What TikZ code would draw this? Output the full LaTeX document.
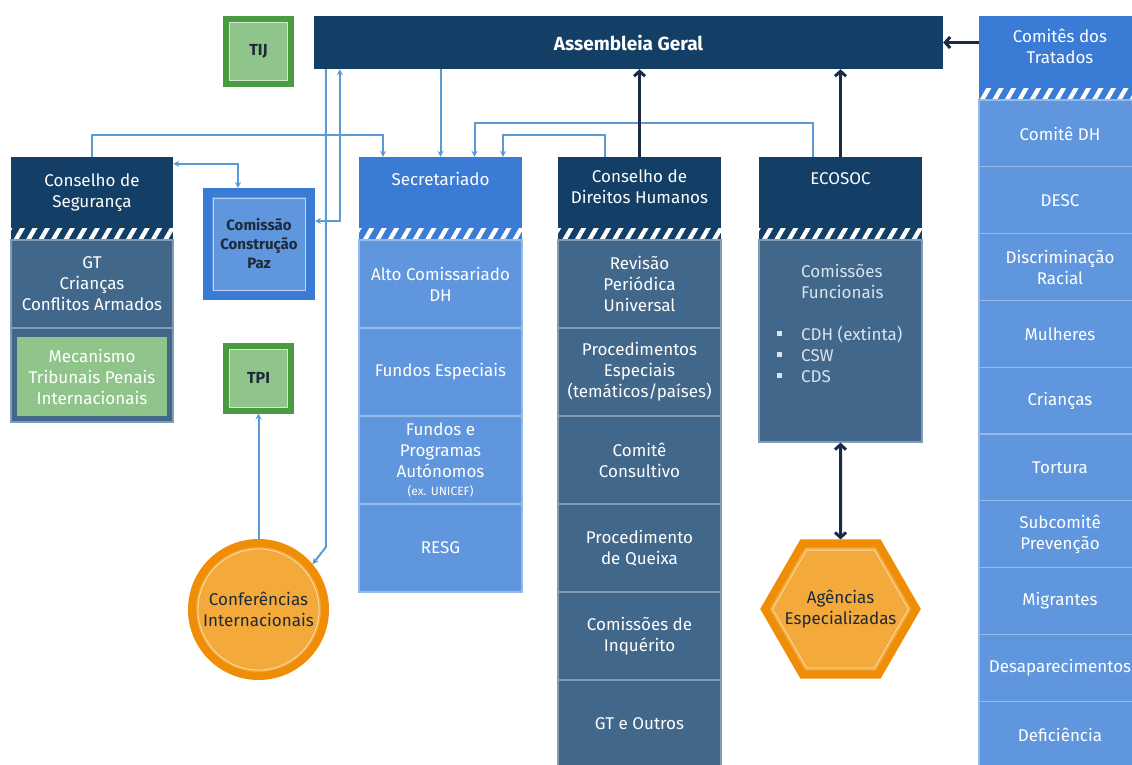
\documentclass[tikz,border=0pt]{standalone}
\usepackage{fontspec}
\setmainfont{Fira Sans}
\usetikzlibrary{shapes.geometric,arrows.meta,patterns.meta}

\definecolor{navy}{HTML}{133F66}
\definecolor{steel}{HTML}{41678B}
\definecolor{azure}{HTML}{3A7BD5}
\definecolor{sky}{HTML}{5F96DD}
\definecolor{leaf}{HTML}{8FC48B}
\definecolor{leafdark}{HTML}{4A9C40}
\definecolor{amber}{HTML}{F08D07}
\definecolor{gold}{HTML}{F4AA3A}
\definecolor{wire}{HTML}{5B9BD5}
\definecolor{ink}{HTML}{1B2B47}
\definecolor{mist}{HTML}{D9E4EE}
\definecolor{slate}{HTML}{1E2A38}

\newcommand{\sqbullet}{\rule[4pt]{5pt}{5pt}\hspace*{19pt}}

\begin{document}
\begin{tikzpicture}[x=1pt, y=1pt,
    txt/.style={align=center, inner sep=2pt,
        font=\fontsize{17}{21}\selectfont},
    head/.style={txt, fill=#1, text=white, minimum width=163pt,
        minimum height=71pt},
    cell/.style={txt, fill=#1, text=white, draw=white!35!#1,
        line width=1.2pt, minimum width=163pt, minimum height=88pt},
    band/.style={preaction={fill=#1}, pattern color=white,
        pattern={Lines[angle=60, distance=10.8pt, line width=4.3pt]}},
    court/.style={txt, draw=leafdark, line width=6pt, fill=leaf,
        text=slate, minimum size=65pt,
        font=\fontsize{16}{19}\selectfont\bfseries},
    link/.style={draw=wire, line width=2pt,
        >={Stealth[length=6pt, width=6pt]}},
    navyarrow/.style={draw=ink, line width=3pt,
        >={Straight Barb[length=5pt, width=11pt]}},
]
    \useasboundingbox (0, 0) rectangle (1132, -764);

    \node[head=navy, minimum width=629pt, minimum height=53pt,
        font=\fontsize{19}{23}\selectfont\bfseries] (ag) at (628.5, -42.5)
        {Assembleia Geral};
    \node[court] (tij) at (258.5, -51.5) {TIJ};
    \node[head=azure, minimum width=162pt, minimum height=72pt] (trh)
        at (1060, -52) {Comitês dos\\Tratados\\[-10pt]\mbox{}};

    \node[head=navy, minimum width=162pt] (cs) at (92, -192.5)
        {Conselho de\\Segurança};
    \node[head=azure] (sec) at (440.5, -192.5) {Secretariado\\\strut};
    \node[head=navy] (cdh) at (639.5, -192.5)
        {Conselho de\\Direitos Humanos\\[-10pt]\mbox{}};
    \node[head=navy] (eco) at (840.5, -192.5) {ECOSOC\\\strut};

    \foreach \n/\c in {cs/navy, sec/azure, cdh/navy, eco/navy, trh/azure}
        \path[band=\c] (\n.south west) rectangle ([yshift=-12pt]\n.south east);

    \node[cell=steel, minimum width=162pt] (csgt) at (92, -284)
        {GT\\Crianças\\Conflitos Armados};
    \node[cell=steel, minimum width=162pt, minimum height=94pt] (csbox)
        at (92, -375) {};
    \node[txt, fill=leaf, text=white, minimum width=150pt,
        minimum height=79pt] (mec) at (92, -376.5)
        {Mecanismo\\Tribunais Penais\\Internacionais};

    \foreach \t [count=\i] in {{Alto Comissariado\\DH}, Fundos Especiais,
        {Fundos e\\Programas\\Autónomos\\[-3pt]{\fontsize{12}{14}\selectfont
        (ex. UNICEF)}}, RESG}
        \node[cell=sky] (sec\i) at (440.5, -196-88*\i) {\t};

    \foreach \t [count=\i] in {{Revisão\\Periódica\\Universal},
        {Procedimentos\\Especiais\\(temáticos/países)},
        {Comitê\\Consultivo}, {Procedimento\\de Queixa},
        {Comissões de\\Inquérito}, GT e Outros}
        \node[cell=steel] (cdh\i) at (639.5, -196-88*\i) {\t};

    \node[cell=steel, minimum height=202pt] (eco2) at (840.5, -341) {};
    \node[anchor=north west, inner sep=0pt, align=left, text=mist,
        font=\fontsize{17}{21}\selectfont] (ecolist) at (777, -264)
        {\hspace*{24pt}Comissões\\\hspace*{24pt}Funcionais\\[21pt]
        \sqbullet CDH (extinta)\\\sqbullet CSW\\\sqbullet CDS};

    \foreach \t [count=\i] in {Comitê DH, DESC, {Discriminação\\Racial},
        Mulheres, Crianças, Tortura, {Subcomitê\\Prevenção}, Migrantes,
        Desaparecimentos, Deficiência}
        \node[cell=sky, minimum width=162pt, minimum height=66.8pt] (tr\i)
            at (1060, -66.6-66.8*\i) {\t};

    \node[txt, draw=azure, line width=9pt, fill=sky, text=slate,
        minimum size=103pt, font=\fontsize{15}{19}\selectfont\bfseries]
        (ccp) at (259, -244) {Comissão\\Construção\\Paz};
    \node[court] (tpi) at (258.5, -378) {TPI};
    \node[txt, circle, draw=amber, line width=8pt, fill=gold, text=slate,
        minimum size=133pt] (conf) at (258.5, -609.5)
        {Conferências\\Internacionais};
    \node[txt, regular polygon, regular polygon sides=6, draw=amber,
        line width=8pt, fill=gold, text=slate, inner sep=-9.5pt]
        (agen) at (840.5, -609) {Agências\\Especializadas};

    \foreach \n in {tij, tpi}
        \draw[white!60!leaf, line width=0.8pt]
            ([shift={(6.5pt,-6.5pt)}]\n.north west)
            rectangle ([shift={(-6.5pt,6.5pt)}]\n.south east);
    \draw[white!60!sky, line width=0.8pt]
        ([shift={(10pt,-10pt)}]ccp.north west)
        rectangle ([shift={(-10pt,10pt)}]ccp.south east);
    \draw[white!60!gold, line width=0.8pt] (conf) circle (60.5);
    \draw[white!60!gold, line width=0.8pt, shift={(agen.center)}] (0:68)
        \foreach \a in {60, 120, ..., 300} {-- (\a:68)} -- cycle;

    \draw[link, ->] (cs.north) -- ++(0, 22) -| ([xshift=-57.5pt]sec.north);
    \draw[link, <->] ([yshift=-7pt]cs.north east) -| ([xshift=-21pt]ccp.north);
    \draw[link, ->] (ag.south -| sec.north) -- (sec.north);
    \draw[link, <->] ([xshift=26pt]ag.south west) |- ([yshift=23pt]ccp.east);
    \draw[link, ->] ([xshift=12pt]ag.south west) -- ++(0, -478) -- (conf.40);
    \draw[link, ->] (conf.north) -- (tpi.south);
    \draw[link, ->] ([xshift=-27.5pt]eco.north) -- ++(0, 34)
        -| ([xshift=34pt]sec.north);
    \draw[link, ->] ([xshift=-34.5pt]cdh.north) -- ++(0, 22)
        -| ([xshift=62.5pt]sec.north);

    \draw[navyarrow, ->] (cdh.north) -- (cdh.north |- ag.south);
    \draw[navyarrow, ->] (eco.north) -- (eco.north |- ag.south);
    \draw[navyarrow, <->] (eco2.south) -- (agen.north);
    \draw[navyarrow, ->] (trh.west |- ag.east) -- (ag.east);
\end{tikzpicture}
\end{document}
